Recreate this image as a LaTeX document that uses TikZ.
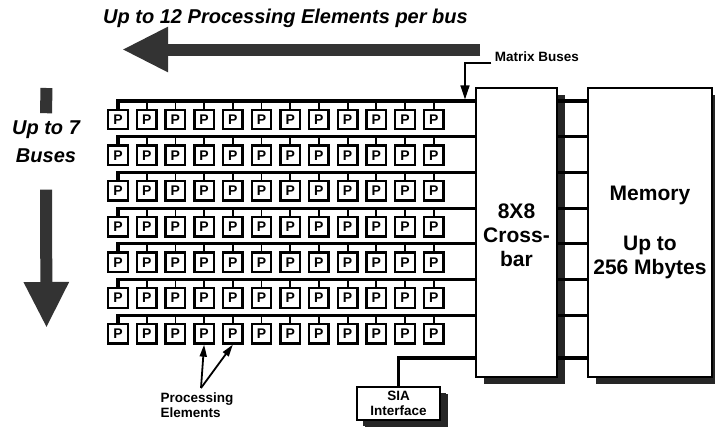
\documentclass[tikz,border=0pt]{standalone}
\usepackage{fontspec}
\setmainfont{Liberation Sans}
\usetikzlibrary{arrows.meta,shadows}

\begin{document}
\begin{tikzpicture}[x=1pt, y=-1pt,
  pe/.style={draw, line width=2.4pt, minimum size=19.5pt, inner sep=0pt, fill=white,
    font=\fontsize{14}{14}\selectfont\bfseries},
  bus/.style={line width=3.2pt},
  stub/.style={line width=1.8pt},
  unit/.style={draw, line width=2pt, fill=white, align=center,
    drop shadow={shadow xshift=8pt, shadow yshift=-7pt, fill=black!85, opacity=1}},
  big/.style={font=\fontsize{21}{24}\selectfont\bfseries},
  small/.style={font=\fontsize{13.5}{15.5}\selectfont\bfseries},
  fat/.style={draw=black!80, line width=12pt},
  fathead/.style={-{Triangle[length=46pt, width=42pt]}},
  pointer/.style={line width=1.8pt, -{Triangle[length=12pt, width=7pt]}}]
\useasboundingbox (0,0) rectangle (715,429);

% heading arrows
\node[font=\fontsize{20}{24}\selectfont\bfseries\itshape, anchor=base] (title) at (285.5,23)
{Up to 12 Processing Elements per bus};
\coordinate (h-tail) at (480,49.5);
\coordinate (h-tip) at (122,49.5);
\draw[fat, fathead] (h-tail) -- (h-tip);

\node[font=\fontsize{20}{28}\selectfont\bfseries\itshape, align=center, inner sep=0pt] (buses) at (46,141.4)
{Up to 7\\Buses};
\coordinate (v-top) at (46.5,88);
\coordinate (v-tip) at (46.5,328);
\draw[fat] (v-top) -- ([yshift=7pt]buses.north);
\draw[fat, fathead] ([yshift=-27pt]buses.south) -- (v-tip);

% crossbar and memory
\node[unit, big, minimum width=81pt, minimum height=289pt] (xbar) at (516.5,232.5)
{\\[-4pt]8X8\\Cross-\\bar};
\node[unit, big, minimum width=124pt, minimum height=289pt] (mem) at (650,232.5)
{Memory\\[26pt]Up to\\256 Mbytes};
\node[unit, small, minimum width=83pt, minimum height=33pt,
  drop shadow={shadow xshift=6pt, shadow yshift=-6pt, fill=black!85, opacity=1}] (sia) at (398.5,403.5)
{SIA\\Interface};

\foreach \yy [count=\i] in {101,136.7,172.4,208.1,243.8,279.5,315.2,358} {
  \coordinate (m\i) at (0,\yy);
  \draw[bus] (xbar.east |- m\i) -- (mem.west |- m\i);
}
\draw[bus] (sia.north) |- (xbar.west |- m8);

% processing elements on the buses
\foreach \r in {1,...,7} {
  \foreach \c in {1,...,12}
    \node[pe] (p\r-\c) at (118+28.7*\c-28.7, 119.5+35.7*\r-35.7) {P};
  \draw[bus] (p\r-1.north) -- (p\r-1.north |- m\r) -- (xbar.west |- m\r);
  \foreach \c in {2,...,12}
    \draw[stub] (p\r-\c.north) -- (p\r-\c.north |- m\r);
}

% labels
\node[small] (mbus) at (537,57) {Matrix Buses};
\draw[line width=1.5pt, -{Triangle[length=14pt, width=9pt]}]
  ([yshift=-6pt]mbus.west) -| ([xshift=-10pt, yshift=1.6pt]xbar.west |- m1);

\node[small, align=left, anchor=north west] (pelab) at (157,389) {Processing\\Elements};
\coordinate (pe-root) at (201,388);
\draw[pointer] (pe-root) -- (p7-4.south);
\draw[pointer] (pe-root) -- (p7-5.south);
\end{tikzpicture}
\end{document}
